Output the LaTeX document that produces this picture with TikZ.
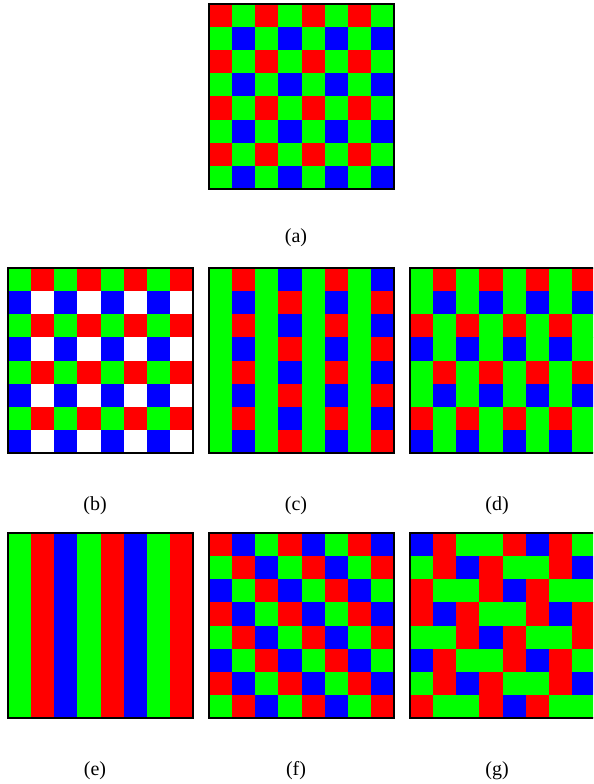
\documentclass[tikz,border=0pt]{standalone}
\usepackage{fontspec}
\setmainfont{Liberation Serif}
\definecolor{cR}{RGB}{255,0,0}
\definecolor{cG}{RGB}{0,255,0}
\definecolor{cB}{RGB}{0,0,255}
\definecolor{cW}{RGB}{255,255,255}
\def\cs{23.125}
\tikzset{
  gridframe/.style={draw=black, line width=1.2pt},
  lbl/.style={font=\fontsize{15}{18}\selectfont, inner sep=0pt},
}
\newcommand\cfagrid[4]{%
  \begin{scope}[shift={(#2,#3)}]
    \foreach \rw [count=\i from 0] in {#4} {
      \foreach \c [count=\j from 0] in \rw {
        \fill[c\c] (\j*\cs,\i*\cs) rectangle ++(\cs+0.3,\cs+0.3);
      }
    }
    \draw[gridframe] (0,0) rectangle (8*\cs,8*\cs);
    \coordinate (#1) at (4*\cs,8*\cs);
  \end{scope}}
\begin{document}
\begin{tikzpicture}[x=0.75pt,y=-0.75pt]
\useasboundingbox (0,0) rectangle (593,784);
\clip (0,0) rectangle (593,784);
% (a)
\cfagrid{ga}{209}{4}{{R,G,R,G,R,G,R,G},{G,B,G,B,G,B,G,B},{R,G,R,G,R,G,R,G},{G,B,G,B,G,B,G,B},{R,G,R,G,R,G,R,G},{G,B,G,B,G,B,G,B},{R,G,R,G,R,G,R,G},{G,B,G,B,G,B,G,B}}
% (b)
\cfagrid{gb}{8}{268}{{G,R,G,R,G,R,G,R},{B,W,B,W,B,W,B,W},{G,R,G,R,G,R,G,R},{B,W,B,W,B,W,B,W},{G,R,G,R,G,R,G,R},{B,W,B,W,B,W,B,W},{G,R,G,R,G,R,G,R},{B,W,B,W,B,W,B,W}}
% (c)
\cfagrid{gc}{209}{268}{{G,R,G,B,G,R,G,B},{G,B,G,R,G,B,G,R},{G,R,G,B,G,R,G,B},{G,B,G,R,G,B,G,R},{G,R,G,B,G,R,G,B},{G,B,G,R,G,B,G,R},{G,R,G,B,G,R,G,B},{G,B,G,R,G,B,G,R}}
% (d)
\cfagrid{gd}{410}{268}{{G,R,G,R,G,R,G,R},{G,B,G,B,G,B,G,B},{R,G,R,G,R,G,R,G},{B,G,B,G,B,G,B,G},{G,R,G,R,G,R,G,R},{G,B,G,B,G,B,G,B},{R,G,R,G,R,G,R,G},{B,G,B,G,B,G,B,G}}
% (e)
\cfagrid{ge}{8}{533}{{G,R,B,G,R,B,G,R},{G,R,B,G,R,B,G,R},{G,R,B,G,R,B,G,R},{G,R,B,G,R,B,G,R},{G,R,B,G,R,B,G,R},{G,R,B,G,R,B,G,R},{G,R,B,G,R,B,G,R},{G,R,B,G,R,B,G,R}}
% (f)
\cfagrid{gf}{209}{533}{{R,B,G,R,B,G,R,B},{G,R,B,G,R,B,G,R},{B,G,R,B,G,R,B,G},{R,B,G,R,B,G,R,B},{G,R,B,G,R,B,G,R},{B,G,R,B,G,R,B,G},{R,B,G,R,B,G,R,B},{G,R,B,G,R,B,G,R}}
% (g)
\cfagrid{gg}{410}{533}{{B,R,G,G,R,B,R,G},{G,R,B,R,G,G,R,B},{R,G,G,R,B,R,G,G},{R,B,R,G,G,R,B,R},{G,G,R,B,R,G,G,R},{B,R,G,G,R,B,R,G},{G,R,B,R,G,G,R,B},{R,G,G,R,B,R,G,G}}
% labels
\node[lbl] (la) at (296,238) {(a)};
\node[lbl] (lb) at (95,506) {(b)};
\node[lbl] (lc) at (296,506) {(c)};
\node[lbl] (ld) at (497,506) {(d)};
\node[lbl] (le) at (95,771) {(e)};
\node[lbl] (lf) at (296,771) {(f)};
\node[lbl] (lg) at (497,771) {(g)};
\end{tikzpicture}
\end{document}
